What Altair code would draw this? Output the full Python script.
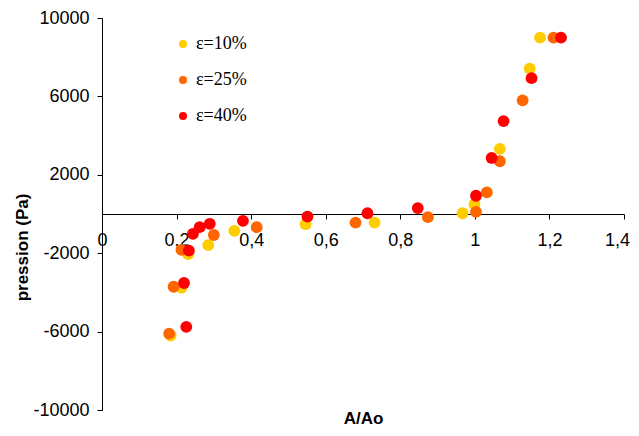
import altair as alt
import pandas as pd

series = ["ε=10%", "ε=25%", "ε=40%"]
colors = ["#FFCC00", "#FF6600", "#FF0000"]

x10 = [1.175, 1.147, 1.067, 0.999, 0.967, 0.731, 0.546, 0.355, 0.285, 0.231, 0.213, 0.184]
y10 = [9000, 7420, 3320, 500, 40, -440, -520, -860, -1590, -2050, -3760, -6200]

x25 = [1.211, 1.128, 1.067, 1.032, 1.003, 0.874, 0.680, 0.415, 0.300, 0.213, 0.192, 0.180]
y25 = [9000, 5800, 2690, 1100, 110, -160, -440, -670, -1070, -1830, -3710, -6100]

x40 = [1.231, 1.152, 1.077, 1.045, 1.003, 0.847, 0.712, 0.551, 0.378, 0.289, 0.262, 0.244, 0.233, 0.220, 0.226]
y40 = [9000, 6930, 4740, 2860, 930, 300, 40, -130, -350, -500, -670, -1010, -1870, -3520, -5760]

x_ticks = [0, 0.2, 0.4, 0.6, 0.8, 1, 1.2, 1.4]
y_ticks = [-10000, -6000, -2000, 2000, 6000, 10000]

rows = []
for name, xs, ys in zip(series, [x10, x25, x40], [y10, y25, y40]):
    for a, b in zip(xs, ys):
        rows.append({"ratio": a, "pression": b, "serie": name})
df = pd.DataFrame(rows)

W, H = 522, 392

chart = alt.Chart(df).mark_circle(size=140, opacity=1).encode(
    x=alt.X("ratio:Q",
            scale=alt.Scale(domain=[0, 1.4], nice=False, zero=False),
            axis=alt.Axis(title="A/Ao", values=x_ticks, offset=-H / 2,
                          labelExpr="replace(format(datum.value, '.1~f'), '.', ',')",
                          labelOffset={"condition": {"test": "datum.value > 1.3", "value": -7},
                                       "value": 0},
                          grid=False, domainColor="black", tickColor="black",
                          tickSize=5, labelPadding=12, labelFontSize=18,
                          labelFont="Liberation Sans", labelColor="black",
                          titleFont="Liberation Sans", titleFontSize=17,
                          titleFontWeight="bold", titleColor="black",
                          titleX=261, titleY=204, titleAlign="center",
                          titleBaseline="middle", labelFlush=False)),
    y=alt.Y("pression:Q",
            scale=alt.Scale(domain=[-10000, 10000], nice=False),
            axis=alt.Axis(title="pression (Pa)", values=y_ticks, grid=False,
                          labelExpr="'' + datum.value",
                          domainColor="black", tickColor="black", tickSize=5,
                          labelPadding=8, labelFontSize=18,
                          labelFont="Liberation Sans", labelColor="black",
                          titleFont="Liberation Sans", titleFontSize=17,
                          titleFontWeight="bold", titleColor="black",
                          titleX=-80, titleY=229, titleBaseline="middle",
                          titleAlign="center", labelFlush=False)),
    color=alt.Color("serie:N",
                    scale=alt.Scale(domain=series, range=colors),
                    legend=alt.Legend(title=None, orient="none", legendX=72, legendY=17,
                                      symbolSize=64, symbolType="circle",
                                      labelFont="Liberation Serif", labelFontSize=18,
                                      labelColor="black", rowPadding=18,
                                      labelOffset=4, padding=0)),
).properties(
    width=W, height=H,
    autosize=alt.AutoSizeParams(type="none"),
    padding={"left": 94, "top": 10, "right": 7, "bottom": 18},
).configure_view(stroke=None)

chart.save("out.html", embed_options={"renderer": "svg", "actions": False})
